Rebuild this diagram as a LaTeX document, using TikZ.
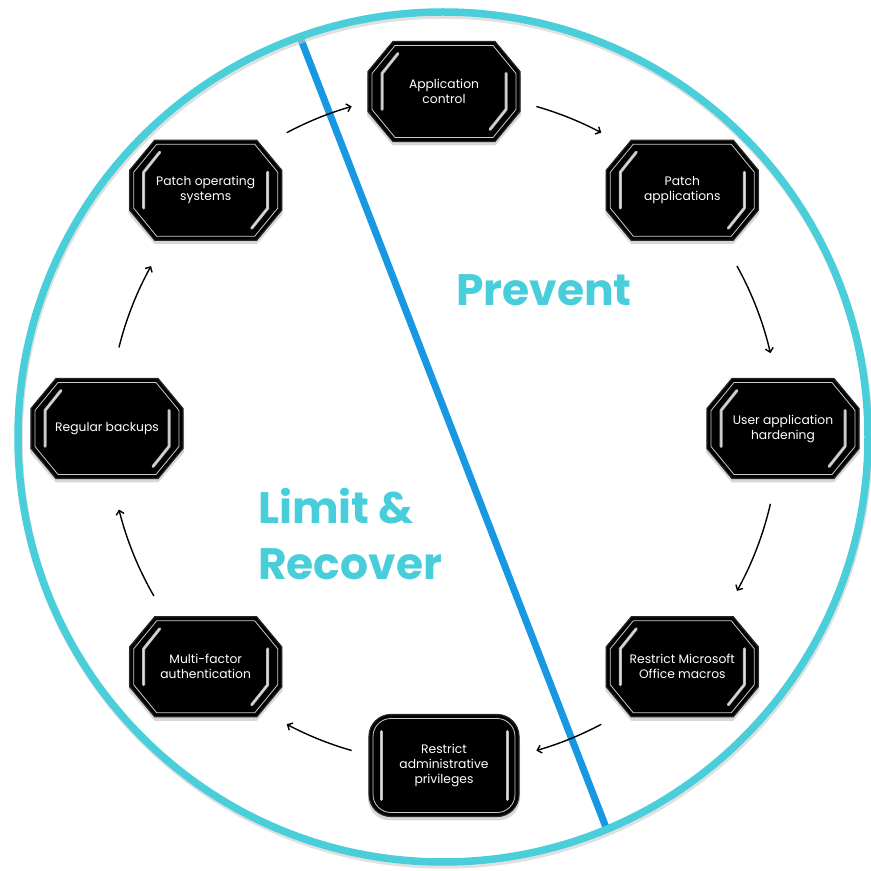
\documentclass[tikz,border=0pt]{standalone}
\usepackage{fontspec}
\setmainfont{Poppins}
\usetikzlibrary{arrows.meta,calc}
\definecolor{ring}{RGB}{74,206,218}
\definecolor{divider}{RGB}{24,151,226}
\definecolor{labelcyan}{RGB}{72,205,218}
\tikzset{
  boxtext/.style={text=white, font=\fontsize{12.3}{15}\selectfont, align=center, inner sep=0pt},
  bevel/.style={line width=3pt, line cap=round, line join=round, draw=gray!55},
  bevelcore/.style={line width=1pt, line cap=round, line join=round, draw=gray!25},
  flow/.style={line width=1.4pt, -{Straight Barb[length=4pt,width=8pt]}},
  phase/.style={text=labelcyan, font=\fontsize{44}{56}\selectfont\bfseries, inner sep=0pt},
}
% octagonal step box: name, centre, text
\newcommand\octagonbox[3]{%
  \begin{scope}[shift={(#2)}]
    \fill[black!35, opacity=.45] (-51,46)--(51,46)--(77,16)--(77,-24)--(51,-54)--(-51,-54)--(-77,-24)--(-77,16)--cycle;
    \filldraw[fill=black, draw=black!85, line width=1.2pt]
      (-51,50)--(51,50)--(76,20)--(76,-20)--(51,-50)--(-51,-50)--(-76,-20)--(-76,20)--cycle;
    \draw[gray!40, line width=.8pt]
      (-49,46)--(49,46)--(72,18)--(72,-18)--(49,-46)--(-49,-46)--(-72,-18)--(-72,18)--cycle;
    \draw[bevel] (-46,38)--(-62,18)--(-62,-18);
    \draw[bevel] (62,18)--(62,-18)--(46,-38);
    \draw[bevelcore] (-46,38)--(-62,18)--(-62,-18);
    \draw[bevelcore] (62,18)--(62,-18)--(46,-38);
  \end{scope}
  \node[boxtext] (#1) at (#2) {#3};
}
% rounded step box: name, centre, text
\newcommand\roundbox[3]{%
  \begin{scope}[shift={(#2)}]
    \fill[black!35, opacity=.45, rounded corners=22pt] (-76,-55) rectangle (76,47);
    \filldraw[fill=black, draw=black!85, line width=1.2pt, rounded corners=22pt] (-75,-51) rectangle (75,51);
    \draw[gray!40, line width=.8pt, rounded corners=18pt] (-71,-47) rectangle (71,47);
    \draw[bevel] (-63,34)--(-63,-34);
    \draw[bevel] (63,34)--(63,-34);
    \draw[bevelcore] (-63,34)--(-63,-34);
    \draw[bevelcore] (63,34)--(63,-34);
  \end{scope}
  \node[boxtext] (#1) at (#2) {#3};
}
\begin{document}
\begin{tikzpicture}[x=1pt,y=1pt]
  \useasboundingbox (0,0) rectangle (871,871);
  \coordinate (ringc) at (443,434);
  \coordinate (hub) at (444,442.5);

  % dividing line between the two phases
  \coordinate (divtop) at (300,834);
  \coordinate (divbot) at (607,41);
  \draw[divider, line width=7pt] (divtop) -- (divbot);

  % outer ring with a soft shadow
  \draw[black!20, opacity=.6, line width=7.5pt] ($(ringc)+(1,-3)$) circle[radius=425];
  \draw[ring, line width=7.5pt] (ringc) circle[radius=425];

  % phase labels
  \node[phase] (prevent) at (544,581) {Prevent};
  \node[phase, anchor=base west] (limit) at (258,347) {Limit \&};
  \node[phase, anchor=base west] (recover) at (258,291) {Recover};

  % the eight steps, clockwise from the top
  \octagonbox{appctl}{$(hub)+(90:337)$}{Application\\control}
  \octagonbox{patchapp}{$(hub)+(45:337)$}{Patch\\applications}
  \octagonbox{hardening}{$(hub)+(0:339)$}{User application\\hardening}
  \octagonbox{macros}{$(hub)+(-45:337)$}{Restrict Microsoft\\Office macros}
  \roundbox{admin}{$(hub)+(-90:337)$}{Restrict\\administrative\\privileges}
  \octagonbox{mfa}{$(hub)+(-135:337)$}{Multi-factor\\authentication}
  \octagonbox{backups}{$(hub)+(180:337)$}{Regular backups}
  \octagonbox{patchos}{$(hub)+(135:337)$}{Patch operating\\systems}

  % curved arrows running clockwise round the cycle
  \draw[flow] ($(hub)+(118:335)$) arc[start angle=118, end angle=106, radius=335];
  \draw[flow] ($(hub)+(74:335)$) arc[start angle=74, end angle=62, radius=335];
  \draw[flow] ($(hub)+(29:335)$) arc[start angle=29, end angle=13, radius=335];
  \draw[flow] ($(hub)+(-13:335)$) arc[start angle=-13, end angle=-29, radius=335];
  \draw[flow] ($(hub)+(-62:335)$) arc[start angle=-62, end angle=-74, radius=335];
  \draw[flow] ($(hub)+(-106:335)$) arc[start angle=-106, end angle=-118, radius=335];
  \draw[flow] ($(hub)+(-150:335)$) arc[start angle=-150, end angle=-166, radius=335];
  \draw[flow] ($(hub)+(166:335)$) arc[start angle=166, end angle=151, radius=335];
\end{tikzpicture}
\end{document}
